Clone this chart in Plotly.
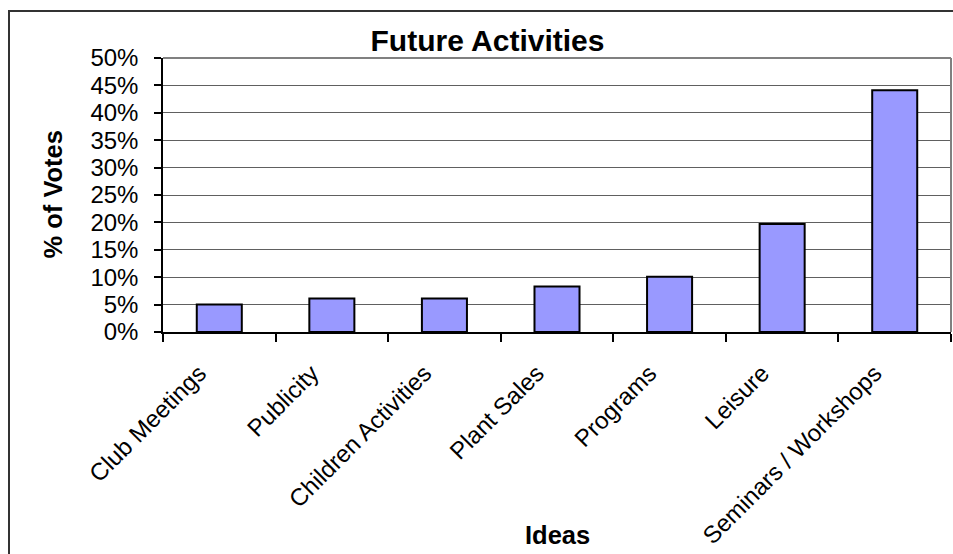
import plotly.graph_objects as go

categories = ["Club Meetings", "Publicity", "Children Activities", "Plant Sales",
              "Programs", "Leisure", "Seminars / Workshops"]
votes_pct = [5.0, 6.1, 6.1, 8.3, 10.1, 19.7, 44.1]
y_ticks = [0, 5, 10, 15, 20, 25, 30, 35, 40, 45, 50]
y_tick_labels = [f"{v}%" for v in y_ticks]

FONT = "Liberation Sans, Arial, sans-serif"

W, H = 953, 554
L, R, T, B = 163, 2, 58, 222
pw = W - L - R
ph = H - T - B

def px_x(x):
    return (x - L) / pw

def px_y(y):
    return (H - B - y) / ph

fig = go.Figure()
fig.add_trace(go.Bar(
    x=categories, y=votes_pct, width=0.4,
    marker=dict(color="#9999FF", line=dict(color="black", width=2)),
    showlegend=False,
))

fig.update_layout(
    width=W, height=H,
    margin=dict(l=L, r=R, t=T, b=B, autoexpand=False),
    paper_bgcolor="white", plot_bgcolor="white",
    font=dict(family=FONT, color="black"),
    title=dict(text="<b>Future Activities</b>", font=dict(size=30, family=FONT, color="black"),
               x=487.5 / W, xanchor="center", y=1 - 40.5 / H, yanchor="middle",
               xref="container", yref="container"),
    bargap=0.6,
)

fig.update_xaxes(
    type="category", range=[-0.5, 6.5],
    showline=True, linecolor="black", linewidth=1.5,
    ticks="outside", ticklen=8, tickwidth=1.5, tickcolor="black",
    tickson="boundaries", tickangle=-45,
    tickfont=dict(size=24, family=FONT, color="black"),
    ticklabelstandoff=16, ticklabelshift=-20,
    showgrid=False, zeroline=False,
)
fig.update_yaxes(
    range=[0, 50], tickmode="array", tickvals=y_ticks, ticktext=y_tick_labels,
    showline=True, linecolor="black", linewidth=1.5,
    ticks="outside", ticklen=7, tickwidth=1.5, tickcolor="black",
    tickfont=dict(size=24, family=FONT, color="black"),
    ticklabelstandoff=11,
    showgrid=True, gridcolor="#606060", gridwidth=1.2, zeroline=False,
)

# plot area border (top & right) in gray
fig.add_shape(type="line", xref="paper", yref="paper", x0=0, x1=1, y0=1, y1=1,
              line=dict(color="#808080", width=2))
fig.add_shape(type="line", xref="paper", yref="paper", x0=1, x1=1, y0=0, y1=1,
              line=dict(color="#808080", width=2))
# outer chart border
fig.add_shape(type="rect", xref="paper", yref="paper",
              x0=px_x(9), x1=px_x(W + 20), y0=px_y(H + 20), y1=px_y(11),
              line=dict(color="#333333", width=2), fillcolor="rgba(0,0,0,0)", layer="above")

fig.add_annotation(text="<b>% of Votes</b>", xref="paper", yref="paper",
                   x=px_x(52.5), y=px_y(195), textangle=-90, showarrow=False,
                   xanchor="center", yanchor="middle",
                   font=dict(size=25.5, family=FONT, color="black"))
fig.add_annotation(text="<b>Ideas</b>", xref="paper", yref="paper",
                   x=0.5, y=px_y(535), showarrow=False,
                   xanchor="center", yanchor="middle",
                   font=dict(size=25.5, family=FONT, color="black"))

fig.write_html("out.html")
